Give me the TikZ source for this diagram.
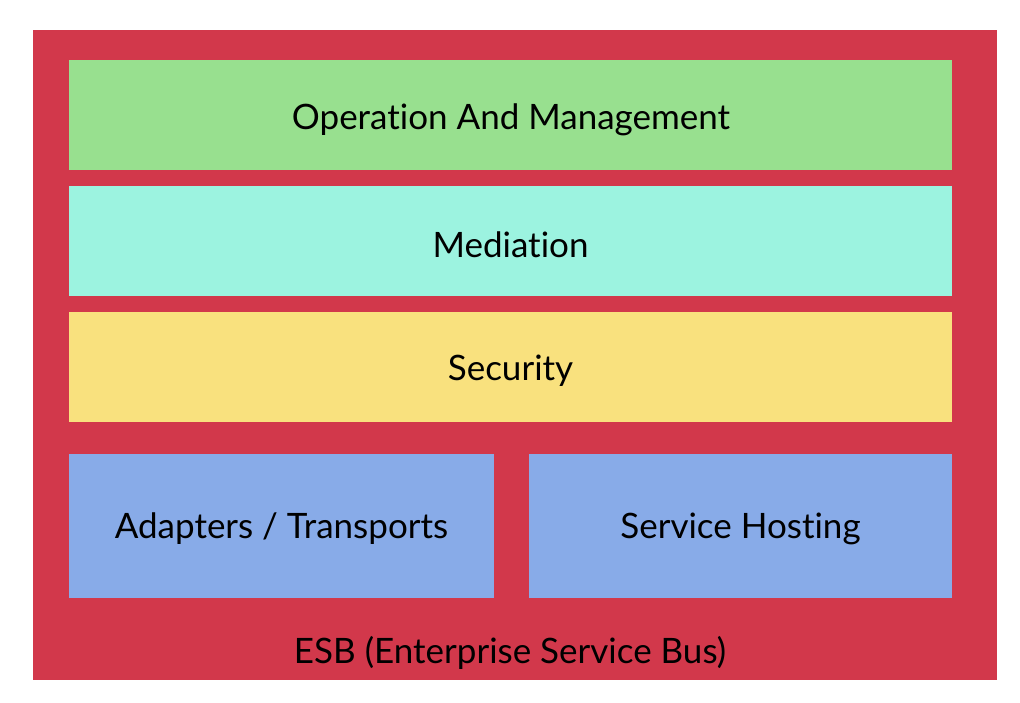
\documentclass[tikz,border=0pt]{standalone}
\usepackage{fontspec}
\setmainfont{Lato}[Ligatures={NoCommon}]
\definecolor{esbred}{HTML}{D2384B}
\definecolor{opgreen}{HTML}{98E08F}
\definecolor{medteal}{HTML}{9CF3E0}
\definecolor{secyellow}{HTML}{F9E17E}
\definecolor{lowblue}{HTML}{88ABE8}
\begin{document}
\begin{tikzpicture}[x=1pt,y=-1pt,
  lbl/.style={font=\fontsize{35}{40}\selectfont, text=black, inner sep=0pt}]
\useasboundingbox (0,0) rectangle (1020,702);
\fill[esbred] (33,30) rectangle (997,680);
\fill[opgreen] (69,60) rectangle (952,170);
\fill[medteal] (69,186) rectangle (952,296);
\fill[secyellow] (69,312) rectangle (952,422);
\fill[lowblue] (69,454) rectangle (494,598);
\fill[lowblue] (529,454) rectangle (952,598);
\node[lbl] (op) at (511,120) {Operation And Management};
\node[lbl] (med) at (510.5,245) {Mediation};
\node[lbl] (sec) at (510.5,371) {Security};
\node[lbl] (ad) at (281.5,529) {Adapters / Transports};
\node[lbl] (sh) at (740.5,529) {Service Hosting};
\node[lbl] (esb) at (510,653) {ESB (Enterprise Service Bus)};
\end{tikzpicture}
\end{document}
